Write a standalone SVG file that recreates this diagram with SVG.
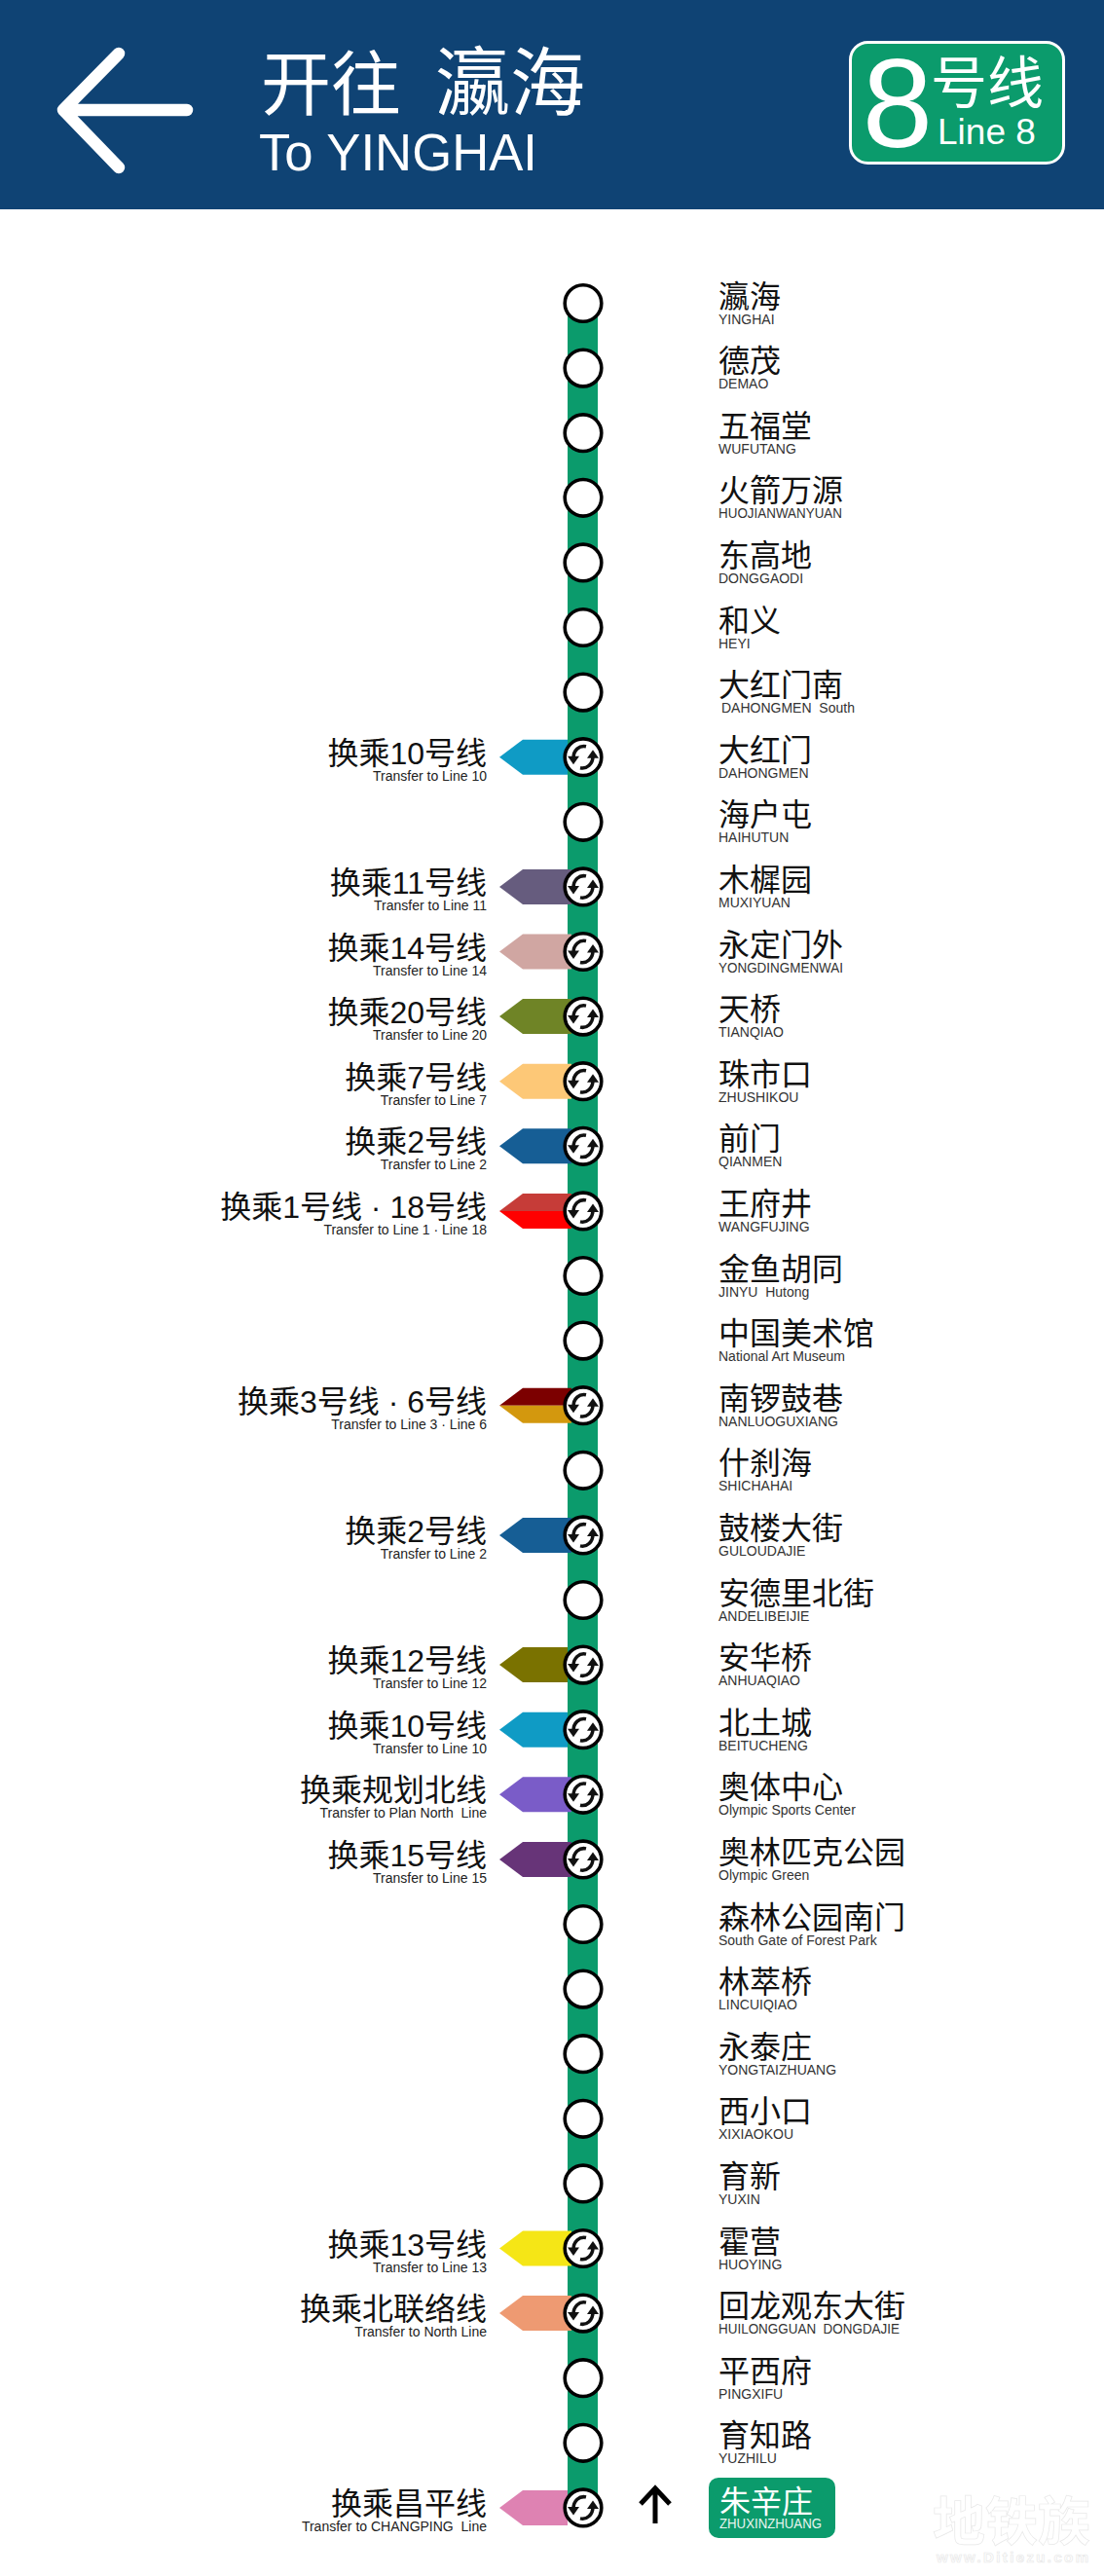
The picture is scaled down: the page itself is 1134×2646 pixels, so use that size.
<svg xmlns="http://www.w3.org/2000/svg" width="1134" height="2646" viewBox="0 0 1134 2646">
<style>
text{font-family:"Liberation Sans","Noto Sans CJK SC",sans-serif;fill:#111}
.c{font-size:32px}
.e{font-size:14px;fill:#333}
.n{font-size:14px;fill:#333}
.sc{font-size:32px;text-anchor:end}
.se{font-size:14px;text-anchor:end;fill:#222}
.w{fill:#fff}
.wm{fill:#fff;stroke:#e8e8e8;stroke-width:.7;font-weight:bold}
.st{fill:#fff;stroke:#000;stroke-width:3.6}
</style>
<defs>
<g id="st"><circle class="st" cx="599" cy="0" r="18.8"/></g>
<g id="hk"><path d="M3,-11C-4,-12.500 -10,-7 -10,1" fill="none" stroke="#111" stroke-width="3.500"/><path d="M-16,-1H-4L-10,7.500Z" fill="#111"/></g>
<g id="xf"><circle class="st" cx="599" cy="0" r="18.8"/><use href="#hk" x="599"/><g transform="translate(599,0) rotate(180)"><use href="#hk"/></g></g>
</defs>
<rect id="header" x="0" y="0" width="1134" height="215" fill="#0f4374"/>
<g id="direction-arrow" fill="none" stroke="#fff" stroke-width="12.5" stroke-linecap="round" stroke-linejoin="round"><path d="M122,55L65,113L122,172M65,113H192"/></g>
<text class="w" x="268" y="112" font-size="72">开往</text>
<text class="w" x="447" y="113" font-size="77">瀛海</text>
<text class="w" x="266" y="175" font-size="54" textLength="286" lengthAdjust="spacingAndGlyphs">To YINGHAI</text>
<g id="line-badge">
<rect x="873.500" y="43.500" width="219" height="124" rx="18" fill="#0b9b6c" stroke="#fff" stroke-width="3"/>
<text class="w" x="922" y="151" font-size="130" text-anchor="middle">8</text>
<text class="w" x="956" y="106" font-size="58">号线</text>
<text class="w" x="963" y="148" font-size="37">Line 8</text>
</g>
<g id="connectors"><rect x="583" y="311" width="31" height="2265" fill="#0b9b6c"/></g>
<g id="s00" transform="translate(0,311.5)"><use href="#st"/><text class="c" x="738" y="4">瀛海</text><text class="n" x="738" y="21">YINGHAI</text></g>
<g id="s01" transform="translate(0,378.1)"><use href="#st"/><text class="c" x="738" y="4">德茂</text><text class="n" x="738" y="21">DEMAO</text></g>
<g id="s02" transform="translate(0,444.7)"><use href="#st"/><text class="c" x="738" y="4">五福堂</text><text class="n" x="738" y="21">WUFUTANG</text></g>
<g id="s03" transform="translate(0,511.3)"><use href="#st"/><text class="c" x="738" y="4">火箭万源</text><text class="n" x="738" y="21" textLength="127" lengthAdjust="spacingAndGlyphs">HUOJIANWANYUAN</text></g>
<g id="s04" transform="translate(0,577.9)"><use href="#st"/><text class="c" x="738" y="4">东高地</text><text class="n" x="738" y="21">DONGGAODI</text></g>
<g id="s05" transform="translate(0,644.5)"><use href="#st"/><text class="c" x="738" y="4">和义</text><text class="n" x="738" y="21">HEYI</text></g>
<g id="s06" transform="translate(0,711.1)"><use href="#st"/><text class="c" x="738" y="4">大红门南</text><text class="n" x="741" y="21">DAHONGMEN&#160; South</text></g>
<g id="s07" transform="translate(0,777.7)"><path d="M513,0L537,-18H583V18H537Z" fill="#0f9bc5"/><text class="sc" x="500" y="7">换乘10号线</text><text class="se" x="500" y="24">Transfer to Line 10</text><use href="#xf"/><text class="c" x="738" y="4">大红门</text><text class="n" x="738" y="21">DAHONGMEN</text></g>
<g id="s08" transform="translate(0,844.3)"><use href="#st"/><text class="c" x="738" y="4">海户屯</text><text class="n" x="738" y="21">HAIHUTUN</text></g>
<g id="s09" transform="translate(0,910.9)"><path d="M513,0L537,-18H587V18H537Z" fill="#665c7e"/><text class="sc" x="500" y="7">换乘11号线</text><text class="se" x="500" y="24">Transfer to Line 11</text><use href="#xf"/><text class="c" x="738" y="4">木樨园</text><text class="n" x="738" y="21">MUXIYUAN</text></g>
<g id="s10" transform="translate(0,977.5)"><path d="M513,0L537,-18H587V18H537Z" fill="#d0a6a2"/><text class="sc" x="500" y="7">换乘14号线</text><text class="se" x="500" y="24">Transfer to Line 14</text><use href="#xf"/><text class="c" x="738" y="4">永定门外</text><text class="n" x="738" y="21" textLength="128" lengthAdjust="spacingAndGlyphs">YONGDINGMENWAI</text></g>
<g id="s11" transform="translate(0,1044.1)"><path d="M513,0L537,-18H587V18H537Z" fill="#6f8426"/><text class="sc" x="500" y="7">换乘20号线</text><text class="se" x="500" y="24">Transfer to Line 20</text><use href="#xf"/><text class="c" x="738" y="4">天桥</text><text class="n" x="738" y="21">TIANQIAO</text></g>
<g id="s12" transform="translate(0,1110.7)"><path d="M513,0L537,-18H587V18H537Z" fill="#fdc877"/><text class="sc" x="500" y="7">换乘7号线</text><text class="se" x="500" y="24">Transfer to Line 7</text><use href="#xf"/><text class="c" x="738" y="4">珠市口</text><text class="n" x="738" y="21">ZHUSHIKOU</text></g>
<g id="s13" transform="translate(0,1177.3)"><path d="M513,0L537,-18H587V18H537Z" fill="#165e95"/><text class="sc" x="500" y="7">换乘2号线</text><text class="se" x="500" y="24">Transfer to Line 2</text><use href="#xf"/><text class="c" x="738" y="4">前门</text><text class="n" x="738" y="21">QIANMEN</text></g>
<g id="s14" transform="translate(0,1243.9)"><path d="M513,0L537,-18H587V0Z" fill="#c63c38"/><path d="M513,0H587V18H537Z" fill="#ff0000"/><text class="sc" x="500" y="7">换乘1号线 · 18号线</text><text class="se" x="500" y="24">Transfer to Line 1 · Line 18</text><use href="#xf"/><text class="c" x="738" y="4">王府井</text><text class="n" x="738" y="21">WANGFUJING</text></g>
<g id="s15" transform="translate(0,1310.5)"><use href="#st"/><text class="c" x="738" y="4">金鱼胡同</text><text class="n" x="738" y="21">JINYU&#160; Hutong</text></g>
<g id="s16" transform="translate(0,1377.1)"><use href="#st"/><text class="c" x="738" y="4">中国美术馆</text><text class="n" x="738" y="21">National Art Museum</text></g>
<g id="s17" transform="translate(0,1443.7)"><path d="M513,0L537,-18H587V0Z" fill="#7c0000"/><path d="M513,0H587V18H537Z" fill="#d3980e"/><text class="sc" x="500" y="7">换乘3号线 · 6号线</text><text class="se" x="500" y="24">Transfer to Line 3 · Line 6</text><use href="#xf"/><text class="c" x="738" y="4">南锣鼓巷</text><text class="n" x="738" y="21">NANLUOGUXIANG</text></g>
<g id="s18" transform="translate(0,1510.3)"><use href="#st"/><text class="c" x="738" y="4">什刹海</text><text class="n" x="738" y="21">SHICHAHAI</text></g>
<g id="s19" transform="translate(0,1576.9)"><path d="M513,0L537,-18H587V18H537Z" fill="#165e95"/><text class="sc" x="500" y="7">换乘2号线</text><text class="se" x="500" y="24">Transfer to Line 2</text><use href="#xf"/><text class="c" x="738" y="4">鼓楼大街</text><text class="n" x="738" y="21">GULOUDAJIE</text></g>
<g id="s20" transform="translate(0,1643.5)"><use href="#st"/><text class="c" x="738" y="4">安德里北街</text><text class="n" x="738" y="21">ANDELIBEIJIE</text></g>
<g id="s21" transform="translate(0,1710.1)"><path d="M513,0L537,-18H583V18H537Z" fill="#7a7200"/><text class="sc" x="500" y="7">换乘12号线</text><text class="se" x="500" y="24">Transfer to Line 12</text><use href="#xf"/><text class="c" x="738" y="4">安华桥</text><text class="n" x="738" y="21">ANHUAQIAO</text></g>
<g id="s22" transform="translate(0,1776.7)"><path d="M513,0L537,-18H583V18H537Z" fill="#0f9bc5"/><text class="sc" x="500" y="7">换乘10号线</text><text class="se" x="500" y="24">Transfer to Line 10</text><use href="#xf"/><text class="c" x="738" y="4">北土城</text><text class="n" x="738" y="21">BEITUCHENG</text></g>
<g id="s23" transform="translate(0,1843.3)"><path d="M513,0L537,-18H587V18H537Z" fill="#7a5cc8"/><text class="sc" x="500" y="7">换乘规划北线</text><text class="se" x="500" y="24">Transfer to Plan North&#160; Line</text><use href="#xf"/><text class="c" x="738" y="4">奥体中心</text><text class="n" x="738" y="21">Olympic Sports Center</text></g>
<g id="s24" transform="translate(0,1909.9)"><path d="M513,0L537,-18H587V18H537Z" fill="#673478"/><text class="sc" x="500" y="7">换乘15号线</text><text class="se" x="500" y="24">Transfer to Line 15</text><use href="#xf"/><text class="c" x="738" y="4">奥林匹克公园</text><text class="n" x="738" y="21">Olympic Green</text></g>
<g id="s25" transform="translate(0,1976.5)"><use href="#st"/><text class="c" x="738" y="4">森林公园南门</text><text class="n" x="738" y="21">South Gate of Forest Park</text></g>
<g id="s26" transform="translate(0,2043.1)"><use href="#st"/><text class="c" x="738" y="4">林萃桥</text><text class="n" x="738" y="21">LINCUIQIAO</text></g>
<g id="s27" transform="translate(0,2109.7)"><use href="#st"/><text class="c" x="738" y="4">永泰庄</text><text class="n" x="738" y="21">YONGTAIZHUANG</text></g>
<g id="s28" transform="translate(0,2176.3)"><use href="#st"/><text class="c" x="738" y="4">西小口</text><text class="n" x="738" y="21">XIXIAOKOU</text></g>
<g id="s29" transform="translate(0,2242.9)"><use href="#st"/><text class="c" x="738" y="4">育新</text><text class="n" x="738" y="21">YUXIN</text></g>
<g id="s30" transform="translate(0,2309.5)"><path d="M513,0L537,-18H587V18H537Z" fill="#f5e616"/><text class="sc" x="500" y="7">换乘13号线</text><text class="se" x="500" y="24">Transfer to Line 13</text><use href="#xf"/><text class="c" x="738" y="4">霍营</text><text class="n" x="738" y="21">HUOYING</text></g>
<g id="s31" transform="translate(0,2376.1)"><path d="M513,0L537,-18H587V18H537Z" fill="#ee9a72"/><text class="sc" x="500" y="7">换乘北联络线</text><text class="se" x="500" y="24">Transfer to North Line</text><use href="#xf"/><text class="c" x="738" y="4">回龙观东大街</text><text class="n" x="738" y="21" textLength="186" lengthAdjust="spacingAndGlyphs">HUILONGGUAN&#160; DONGDAJIE</text></g>
<g id="s32" transform="translate(0,2442.7)"><use href="#st"/><text class="c" x="738" y="4">平西府</text><text class="n" x="738" y="21">PINGXIFU</text></g>
<g id="s33" transform="translate(0,2509.3)"><use href="#st"/><text class="c" x="738" y="4">育知路</text><text class="n" x="738" y="21">YUZHILU</text></g>
<g id="s34" transform="translate(0,2575.9)"><path d="M513,0L537,-18H583V18H537Z" fill="#de82b2"/><text class="sc" x="500" y="7">换乘昌平线</text><text class="se" x="500" y="24">Transfer to CHANGPING&#160; Line</text><use href="#xf"/>
<rect x="728" y="-31" width="130" height="62" rx="10" fill="#0b9b6c"/><text class="c w" x="739" y="5">朱辛庄</text><text class="n" style="fill:#e8f5ef" x="739" y="21" textLength="105" lengthAdjust="spacingAndGlyphs">ZHUXINZHUANG</text></g>
<g id="here-arrow" fill="none" stroke="#000" stroke-width="5"><path d="M673,2592V2556M658,2572L673,2556L688,2572"/></g>
<g id="watermark"><text class="wm" x="958" y="2610" font-size="54">地铁族</text><text class="wm" x="962" y="2632" font-size="15" textLength="156">www.Ditiezu.com</text></g>
</svg>
